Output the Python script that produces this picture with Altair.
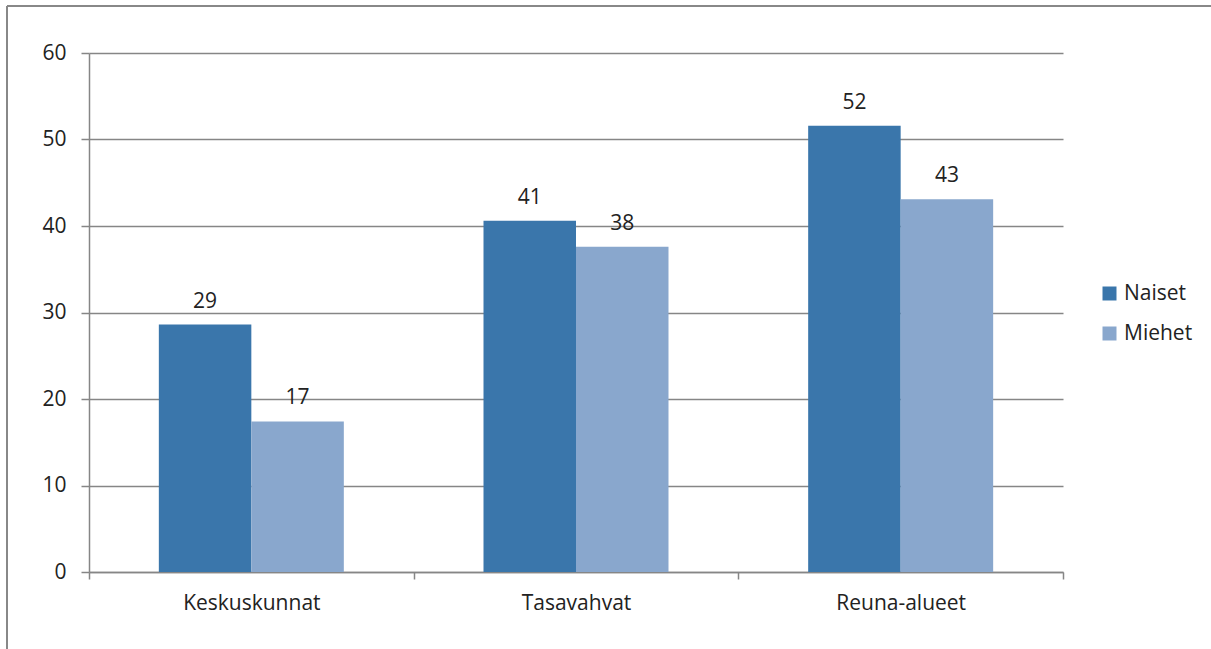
import altair as alt
import pandas as pd

categories = ["Keskuskunnat", "Tasavahvat", "Reuna-alueet"]
series = ["Naiset", "Miehet"]
naiset = [28.6, 40.6, 51.6]
miehet = [17.4, 37.6, 43.1]
labels_naiset = ["29", "41", "52"]
labels_miehet = ["17", "38", "43"]
colors = ["#3A76AB", "#89A7CD"]

rows = []
for i, c in enumerate(categories):
    rows.append({"cat": c, "ser": "Naiset", "val": naiset[i], "lab": labels_naiset[i]})
    rows.append({"cat": c, "ser": "Miehet", "val": miehet[i], "lab": labels_miehet[i]})
df = pd.DataFrame(rows)

FONT = "Open Sans"
FS = 21
W, H = 974, 519
PL, PT = 89, 53
PR = 1211 - PL - W
PB = 649 - PT - H

x = alt.X("cat:N", sort=categories, title=None,
          scale=alt.Scale(paddingInner=0, paddingOuter=0),
          axis=alt.Axis(labelAngle=0, labelFont=FONT, labelFontSize=FS, labelColor="#222",
                        domainColor="#868686", domainWidth=1.5, tickColor="#868686",
                        tickWidth=1.5, tickSize=7, tickBand="extent", labelPadding=13,
                        grid=False))
xo = alt.XOffset("ser:N", sort=series, scale=alt.Scale(paddingInner=0, paddingOuter=0.755))
y = alt.Y("val:Q", title=None,
          scale=alt.Scale(domain=[0, 60]),
          axis=alt.Axis(values=[0, 10, 20, 30, 40, 50, 60], labelFont=FONT, labelFontSize=FS,
                        labelColor="#222", domainColor="#868686", domainWidth=1.5,
                        tickColor="#868686", tickWidth=1.5, tickSize=8, labelPadding=15,
                        gridColor="#868686", gridWidth=1.5))

color = alt.Color("ser:N", sort=series, title=None,
                  scale=alt.Scale(domain=series, range=colors),
                  legend=alt.Legend(orient="none", legendX=1010, legendY=230,
                                    symbolType="square", symbolSize=196, symbolStrokeWidth=0,
                                    labelFont=FONT, labelFontSize=FS, labelColor="#222",
                                    rowPadding=18, symbolOffset=0, labelOffset=4))

bars = alt.Chart(df).mark_bar().encode(x=x, xOffset=xo, y=y, color=color)
text = alt.Chart(df).mark_text(dy=-17, baseline="alphabetic", font=FONT, fontSize=FS,
                               color="#222").encode(
    x=alt.X("cat:N", sort=categories), xOffset=xo, y="val:Q", text="lab:N")

top_border = alt.Chart(df).mark_rule(color="#888888", strokeWidth=2).encode(
    x=alt.value(7 - PL), x2=alt.value(1300), y=alt.value(6 - PT))
left_border = alt.Chart(df).mark_rule(color="#888888", strokeWidth=2).encode(
    x=alt.value(7 - PL), y=alt.value(6 - PT), y2=alt.value(700))

chart = alt.layer(bars, text, top_border, left_border).properties(
    width=W, height=H,
    autosize=alt.AutoSizeParams(type="none"),
    padding={"left": PL, "top": PT, "right": PR, "bottom": PB},
    background="white",
).configure_view(stroke=None)

chart.save("out.html", embed_options={"renderer": "svg", "actions": False})
